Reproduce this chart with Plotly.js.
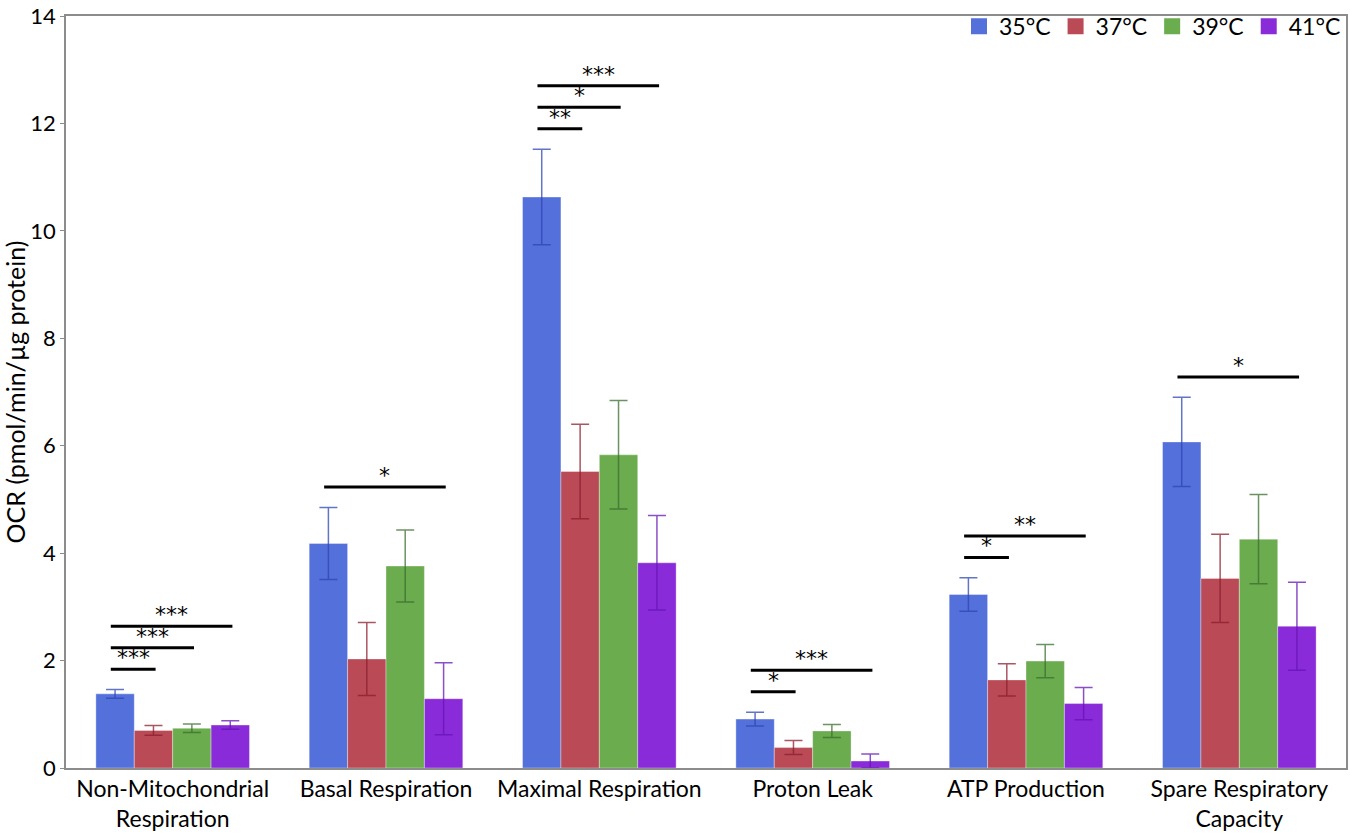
<!DOCTYPE html>
<html>
<head>
<meta charset="utf-8">
<script src="https://cdn.plot.ly/plotly-3.0.1.min.js"></script>
<style>
  html, body { margin: 0; padding: 0; background: #ffffff; }
  #chart { width: 1350px; height: 833px; }
</style>
</head>
<body>
<div id="chart"></div>
<script>
var categories = [
  'Non-Mitochondrial<br>Respiration',
  'Basal Respiration',
  'Maximal Respiration',
  'Proton Leak',
  'ATP Production',
  'Spare Respiratory<br>Capacity'
];
var seriesNames = ['35°C', '37°C', '39°C', '41°C'];

var ocr35 = [1.38, 4.18, 10.63, 0.91, 3.23, 6.07];
var ocr37 = [0.70, 2.03, 5.52, 0.38, 1.64, 3.53];
var ocr39 = [0.74, 3.76, 5.83, 0.69, 1.99, 4.26];
var ocr41 = [0.80, 1.29, 3.82, 0.13, 1.20, 2.64];

var err35 = [0.08, 0.67, 0.89, 0.13, 0.31, 0.83];
var err37 = [0.09, 0.68, 0.88, 0.13, 0.30, 0.82];
var err39 = [0.08, 0.67, 1.01, 0.12, 0.31, 0.83];
var err41 = [0.08, 0.67, 0.88, 0.13, 0.30, 0.82];

// significance vs 35°C: category index, compared series index, label
var sigGroup = [0, 0, 0, 1, 2, 2, 2, 3, 3, 4, 4, 5];
var sigTarget = [1, 2, 3, 3, 1, 2, 3, 1, 3, 1, 3, 3];
var sigLabel = ['***', '***', '***', '*', '**', '*', '***', '*', '***', '*', '**', '*'];

var ocrAll = [ocr35, ocr37, ocr39, ocr41];
var errAll = [err35, err37, err39, err41];
var barColors = ['#5470db', '#b94a56', '#6aac4e', '#8a2bd9'];
var errColors = ['rgba(45, 70, 180, 0.75)', 'rgba(140, 30, 45, 0.75)', 'rgba(60, 110, 45, 0.75)', 'rgba(100, 20, 180, 0.75)'];

var bargap = 0.28;
var barW = (1 - bargap) / seriesNames.length;
var fontFamily = 'Lato, "Open Sans", "DejaVu Sans", sans-serif';

function bar_offset(i) {
  return (i - (seriesNames.length - 1) / 2) * barW;
}

function group_top(g) {
  var top = 0;
  for (var i = 0; i < ocrAll.length; i++) {
    top = Math.max(top, ocrAll[i][g] + errAll[i][g]);
  }
  return top;
}

var traces = seriesNames.map(function (name, i) {
  return {
    type: 'bar',
    name: name,
    x: categories,
    y: ocrAll[i],
    showlegend: false,
    marker: {
      color: barColors[i],
      line: { color: 'rgba(255,255,255,0.35)', width: 1 }
    },
    error_y: {
      type: 'data',
      array: errAll[i],
      visible: true,
      color: errColors[i],
      thickness: 1.5,
      width: 9
    }
  };
});

// legend swatches
seriesNames.forEach(function (name, i) {
  traces.push({
    type: 'scatter',
    mode: 'markers',
    name: name,
    x: [null],
    y: [null],
    marker: { symbol: 'square', size: 16, color: barColors[i] }
  });
});

var shapes = [];
var annotations = [];
var levelCount = {};
sigGroup.forEach(function (g, k) {
  var level = levelCount[g] || 0;
  levelCount[g] = level + 1;
  var yLine = group_top(g) + 0.38 + level * 0.4;
  var x0 = g + bar_offset(0) - 0.02;
  var x1 = g + bar_offset(sigTarget[k]) + 0.01;
  shapes.push({
    type: 'line',
    xref: 'x',
    yref: 'y',
    x0: x0,
    x1: x1,
    y0: yLine,
    y1: yLine,
    line: { color: '#000000', width: 3 }
  });
  annotations.push({
    xref: 'x',
    yref: 'y',
    x: (x0 + x1) / 2,
    y: yLine,
    yanchor: 'bottom',
    yshift: -3,
    showarrow: false,
    text: sigLabel[k],
    font: { family: '"DejaVu Sans", sans-serif', size: 22, color: '#000000' }
  });
});

var layout = {
  width: 1350,
  height: 833,
  margin: { l: 66, r: 4, t: 16, b: 65, pad: 0 },
  paper_bgcolor: '#ffffff',
  plot_bgcolor: '#ffffff',
  font: { family: fontFamily, size: 22, color: '#000000' },
  barmode: 'group',
  bargap: bargap,
  bargroupgap: 0,
  showlegend: true,
  legend: {
    orientation: 'h',
    x: 1,
    xanchor: 'right',
    y: 1.015,
    yanchor: 'top',
    bgcolor: 'rgba(0,0,0,0)',
    itemwidth: 30,
    font: { family: fontFamily, size: 23, color: '#000000' }
  },
  xaxis: {
    type: 'category',
    showline: true,
    linecolor: '#8c8c8c',
    linewidth: 1.5,
    mirror: true,
    ticks: '',
    showgrid: false,
    zeroline: false,
    tickfont: { family: fontFamily, size: 23, color: '#000000' }
  },
  yaxis: {
    range: [0, 14],
    dtick: 2,
    showline: true,
    linecolor: '#8c8c8c',
    linewidth: 1.5,
    mirror: true,
    ticks: 'outside',
    ticklen: 4,
    tickcolor: '#8c8c8c',
    showgrid: false,
    zeroline: false,
    tickfont: { family: fontFamily, size: 22, color: '#000000' },
    title: {
      text: 'OCR (pmol/min/µg protein)',
      font: { family: fontFamily, size: 25, color: '#000000' },
      standoff: 4
    }
  },
  shapes: shapes,
  annotations: annotations
};

var config = {
  responsive: false,
  displayModeBar: false
};

Plotly.newPlot('chart', traces, layout, config);
</script>
</body>
</html>
